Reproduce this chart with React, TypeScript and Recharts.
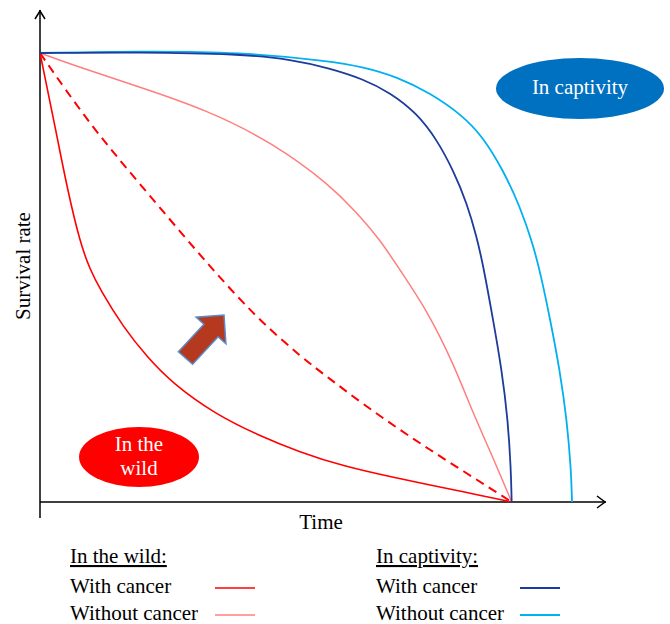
import React from 'react';
import { LineChart, Line, XAxis, YAxis, ReferenceLine } from 'recharts';

// survival curves, t = time (arbitrary units), s = survival fraction
const wildWithCancer = [
  { t: 0, s: 1 }, { t: 0.36, s: 0.815 }, { t: 0.57, s: 0.702 }, { t: 0.85, s: 0.577 },
  { t: 1.06, s: 0.518 }, { t: 1.27, s: 0.474 }, { t: 1.76, s: 0.39 }, { t: 2.27, s: 0.323 },
  { t: 2.8, s: 0.265 }, { t: 3.71, s: 0.196 }, { t: 4.62, s: 0.149 }, { t: 5.51, s: 0.111 },
  { t: 6.42, s: 0.08 }, { t: 7.57, s: 0.053 }, { t: 8.27, s: 0.038 }, { t: 8.97, s: 0.023 },
  { t: 10, s: 0 },
];

const wildShifted = [
  { t: 0, s: 1 }, { t: 1.06, s: 0.84 }, { t: 2.12, s: 0.708 }, { t: 3.39, s: 0.55 },
  { t: 4.09, s: 0.468 }, { t: 4.66, s: 0.405 }, { t: 5.51, s: 0.325 }, { t: 6.15, s: 0.274 },
  { t: 6.85, s: 0.218 }, { t: 7.57, s: 0.165 }, { t: 8.27, s: 0.116 }, { t: 8.97, s: 0.069 },
  { t: 9.69, s: 0.021 }, { t: 10, s: 0 },
];

const wildWithoutCancer = [
  { t: 0, s: 1 }, { t: 0.7, s: 0.973 }, { t: 2.12, s: 0.924 }, { t: 3.54, s: 0.873 },
  { t: 4.94, s: 0.8 }, { t: 6.15, s: 0.706 }, { t: 6.72, s: 0.644 }, { t: 7.21, s: 0.584 },
  { t: 7.63, s: 0.517 }, { t: 8.2, s: 0.428 }, { t: 8.76, s: 0.31 }, { t: 9.18, s: 0.198 },
  { t: 9.6, s: 0.1 }, { t: 10, s: 0 },
];

const captiveWithCancer = [
  { t: 0, s: 1 }, { t: 2.12, s: 1.002 }, { t: 4.24, s: 0.998 }, { t: 5.3, s: 0.986 },
  { t: 6.15, s: 0.966 }, { t: 6.85, s: 0.942 }, { t: 7.42, s: 0.912 }, { t: 7.99, s: 0.866 },
  { t: 8.42, s: 0.806 }, { t: 8.76, s: 0.739 }, { t: 9.05, s: 0.666 }, { t: 9.26, s: 0.59 },
  { t: 9.39, s: 0.53 }, { t: 9.6, s: 0.41 }, { t: 9.79, s: 0.294 }, { t: 9.92, s: 0.183 },
  { t: 9.985, s: 0.071 }, { t: 10, s: 0 },
];

const captiveWithoutCancer = [
  { t: 0, s: 1 }, { t: 2.12, s: 1.004 }, { t: 4.24, s: 1.002 }, { t: 6.15, s: 0.982 },
  { t: 6.85, s: 0.969 }, { t: 7.57, s: 0.947 }, { t: 8.27, s: 0.911 }, { t: 8.97, s: 0.86 },
  { t: 9.39, s: 0.813 }, { t: 9.82, s: 0.739 }, { t: 10.18, s: 0.657 }, { t: 10.45, s: 0.575 },
  { t: 10.62, s: 0.505 }, { t: 10.81, s: 0.41 }, { t: 11.02, s: 0.294 }, { t: 11.17, s: 0.183 },
  { t: 11.26, s: 0.071 }, { t: 11.28, s: 0 },
];

const RED = '#FF0000';
const PINK = '#FF7F7F';
const NAVY = '#1C3B9C';
const SKY = '#00B0F0';
const FONT = "'Liberation Serif', 'Times New Roman', 'DejaVu Serif', serif";

const App: React.FC = () => {
  return (
    <div style={{ position: 'absolute', left: 0, top: 0, width: 670, height: 624, background: '#fff', fontFamily: FONT }}>
      <LineChart width={670} height={624} margin={{ top: 10, right: 64, bottom: 122, left: 40 }}>
        <XAxis type="number" dataKey="t" domain={[0, 12]} hide allowDataOverflow />
        <YAxis type="number" dataKey="s" domain={[0, 1.0958]} hide allowDataOverflow />
        <ReferenceLine x={0} stroke="#000" strokeWidth={1.5} />
        <ReferenceLine y={0} stroke="#000" strokeWidth={1.5} />
        <Line data={wildWithoutCancer} dataKey="s" type="basis" stroke={PINK} strokeWidth={1.5} dot={false} isAnimationActive={false} />
        <Line data={wildShifted} dataKey="s" type="basis" stroke={RED} strokeWidth={2} strokeDasharray="9 6" dot={false} isAnimationActive={false} />
        <Line data={wildWithCancer} dataKey="s" type="basis" stroke={RED} strokeWidth={1.6} dot={false} isAnimationActive={false} />
        <Line data={captiveWithoutCancer} dataKey="s" type="basis" stroke={SKY} strokeWidth={1.8} dot={false} isAnimationActive={false} />
        <Line data={captiveWithCancer} dataKey="s" type="basis" stroke={NAVY} strokeWidth={1.8} dot={false} isAnimationActive={false} />
      </LineChart>

      <svg width={670} height={624} fontFamily={FONT} style={{ position: 'absolute', left: 0, top: 0, pointerEvents: 'none', fontFamily: FONT }}>
        {/* axis arrow heads and the y-axis stub below the origin */}
        <line x1={40} y1={502} x2={40} y2={518} stroke="#000" strokeWidth={1.5} />
        <line x1={40} y1={11} x2={40} y2={12} stroke="#000" strokeWidth={1.5} />
        <polyline points="35,19 40,11 45,19" fill="none" stroke="#000" strokeWidth={1.5} />
        <polyline points="597,496 605,502 597,508" fill="none" stroke="#000" strokeWidth={1.5} />

        <text x={321} y={529} textAnchor="middle" fontSize={21} fill="#000">Time</text>
        <text x={30} y={266} textAnchor="middle" fontSize={21} fill="#000" transform="rotate(-90 30 266)">Survival rate</text>

        <ellipse cx={580} cy={88.5} rx={84} ry={30.5} fill="#0070C0" />
        <text x={580} y={94} textAnchor="middle" fontSize={21} fill="#fff">In captivity</text>

        <ellipse cx={139} cy={457} rx={60} ry={30} fill="#FF0000" />
        <text x={139} y={451} textAnchor="middle" fontSize={21} fill="#fff">In the</text>
        <text x={139} y={475} textAnchor="middle" fontSize={21} fill="#fff">wild</text>

        <polygon
          points="178.4,351.7 203.9,324.2 196.1,317.2 224,315 225.9,343.8 218.1,336.8 192.6,364.3"
          fill="#B4391E" stroke="#5B8BC9" strokeWidth={1.5} strokeLinejoin="miter" />

        <text x={70} y={563} fontSize={21} fill="#000" textDecoration="underline">In the wild:</text>
        <text x={70} y={593} fontSize={21} fill="#000">With cancer</text>
        <text x={70} y={620} fontSize={21} fill="#000">Without cancer</text>
        <line x1={215} y1={588} x2={255} y2={588} stroke={RED} strokeWidth={1.6} />
        <line x1={215} y1={615} x2={255} y2={615} stroke={PINK} strokeWidth={1.6} />

        <text x={376} y={563} fontSize={21} fill="#000" textDecoration="underline">In captivity:</text>
        <text x={376} y={593} fontSize={21} fill="#000">With cancer</text>
        <text x={376} y={620} fontSize={21} fill="#000">Without cancer</text>
        <line x1={520} y1={588} x2={560} y2={588} stroke={NAVY} strokeWidth={1.8} />
        <line x1={520} y1={615} x2={560} y2={615} stroke={SKY} strokeWidth={1.8} />
      </svg>
    </div>
  );
};

export default App;
